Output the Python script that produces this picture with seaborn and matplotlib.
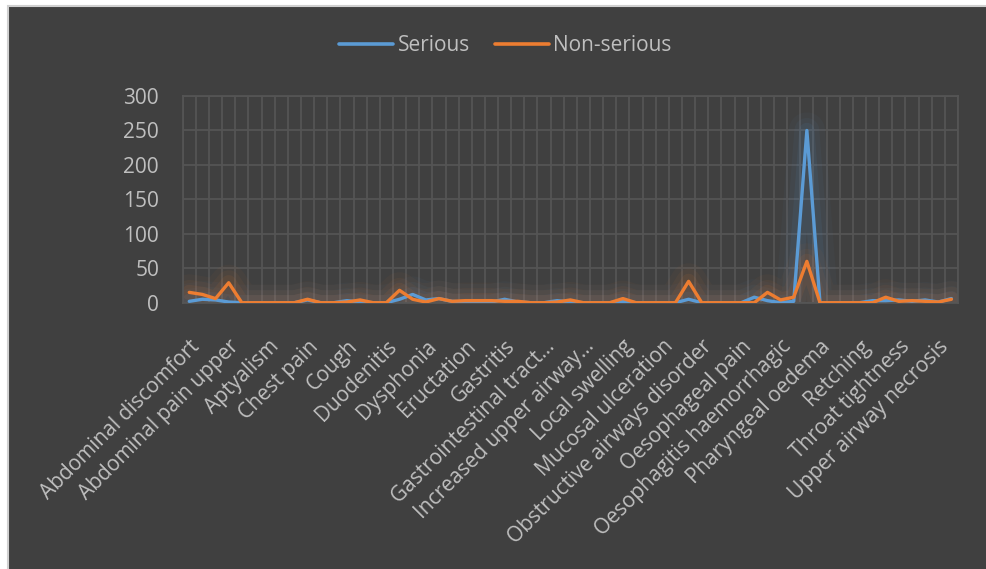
import numpy as np
import pandas as pd
import matplotlib
matplotlib.use("Agg")
import matplotlib.pyplot as plt
import seaborn as sns
from matplotlib.patches import Rectangle

# categorias (somente cada terceira aparece no eixo)
categories = [
    "Abdominal discomfort", "Abdominal distension", "Abdominal pain",
    "Abdominal pain upper", "Ageusia", "Angioedema",
    "Aptyalism", "Aspiration", "Chest discomfort",
    "Chest pain", "Choking", "Choking sensation",
    "Cough", "Dry mouth", "Duodenal ulcer",
    "Duodenitis", "Dyspepsia", "Dysphagia",
    "Dysphonia", "Dyspnoea", "Epigastric discomfort",
    "Eructation", "Feeling hot", "Gastric ulcer",
    "Gastritis", "Gastritis erosive", "Gastrointestinal haemorrhage",
    "Gastrointestinal tract irritation", "Glossodynia", "Hypoaesthesia oral",
    "Increased upper airway secretion", "Laryngeal oedema", "Lip swelling",
    "Local swelling", "Lower respiratory tract inflammation", "Mouth ulceration",
    "Mucosal ulceration", "Mucous membrane disorder", "Nausea",
    "Obstructive airways disorder", "Odynophagia", "Oedema mouth",
    "Oesophageal pain", "Oesophageal ulcer", "Oesophagitis",
    "Oesophagitis haemorrhagic", "Oral discomfort", "Oropharyngeal pain",
    "Pharyngeal oedema", "Pharyngeal ulceration", "Regurgitation",
    "Retching", "Stomatitis", "Throat irritation",
    "Throat tightness", "Tongue oedema", "Tracheal oedema",
    "Upper airway necrosis", "Vomiting",
]

serious = [2, 5, 4, 1, 0, 0, 0, 0, 0, 4,
           0, 0, 3, 1, 0, 0, 5, 12, 4, 6,
           2, 1, 1, 1, 5, 1, 0, 0, 3, 1,
           0, 0, 0, 2, 0, 0, 0, 0, 5, 0,
           0, 0, 0, 8, 3, 0, 2, 250, 0, 0,
           0, 0, 3, 3, 4, 2, 4, 1, 6]

non_serious = [15, 12, 6, 29, 0, 0, 0, 0, 0, 5,
               0, 0, 1, 4, 0, 0, 18, 5, 1, 6,
               2, 3, 3, 3, 2, 2, 0, 0, 1, 4,
               0, 0, 0, 6, 0, 0, 0, 0, 31, 0,
               0, 0, 0, 0, 15, 4, 8, 60, 0, 0,
               0, 0, 0, 8, 2, 3, 2, 1, 5]

series_names = ["Serious", "Non-serious"]
colors = ["#5B9BD5", "#ED7D31"]

n = len(categories)
df = pd.DataFrame({
    "idx": list(range(n)) * 2,
    "count": serious + non_serious,
    "type": [series_names[0]] * n + [series_names[1]] * n,
})

def short(name):
    if len(name) > 30:
        return name.rsplit(" ", 1)[0] + "\u2026"
    return name

bg = "#404040"
txt = "#bfbfbf"
grid = "#555555"

sns.set_theme(style="dark")
plt.rcParams["font.family"] = ["Open Sans", "DejaVu Sans"]

fig = plt.figure(figsize=(9.87, 5.69), dpi=100, facecolor="white")
fig.patches.append(Rectangle((8 / 987, -0.02), 1.05, 1.02 - 6 / 569, transform=fig.transFigure,
                             facecolor=bg, edgecolor="#d0d0d0", linewidth=1.5, zorder=-5))
ax = fig.add_axes([0.1851, 0.468, 0.7855, 0.3633])
ax.set_facecolor(bg)

# efeito de brilho
for name, col in zip(series_names, colors):
    sub = df[df["type"] == name]
    for lw, a in [(26, 0.04), (18, 0.05), (11, 0.08)]:
        ax.plot(sub["idx"], sub["count"], color=col, lw=lw, alpha=a,
                solid_capstyle="round", solid_joinstyle="round", zorder=2)

sns.lineplot(data=df, x="idx", y="count", hue="type", palette=colors,
             hue_order=series_names, linewidth=2.4, ax=ax, zorder=3)
for line in ax.lines:
    line.set_solid_joinstyle("round")
    line.set_solid_capstyle("round")

ax.set_xlim(-0.5, n - 0.5)
ax.set_ylim(0, 300)
ax.set_yticks(range(0, 301, 50))
ax.set_xticks(range(0, n, 3))
ax.set_xticklabels([short(categories[i]) for i in range(0, n, 3)],
                   rotation=45, ha="right", rotation_mode="anchor")
ax.set_xticks(np.arange(-0.5, n, 1), minor=True)
ax.tick_params(axis="both", which="both", length=0, colors=txt)
ax.tick_params(axis="y", labelsize=15, pad=17)
ax.tick_params(axis="x", labelsize=15, pad=24)
ax.grid(True, which="minor", axis="x", color=grid, lw=1.3)
ax.grid(True, which="major", axis="y", color=grid, lw=1.3)
ax.grid(False, which="major", axis="x")
ax.set_axisbelow(True)
for s in ax.spines.values():
    s.set_visible(True)
    s.set_color(grid)
    s.set_linewidth(1.3)
ax.set_xlabel("")
ax.set_ylabel("")

ax.legend_.remove()
handles = [plt.Line2D([], [], color=c, lw=2.6, solid_capstyle="round") for c in colors]
fig.legend(handles, series_names, loc="center", bbox_to_anchor=(0.512, 0.92), ncol=2,
           frameon=False, fontsize=15, labelcolor=txt, handlelength=2.6,
           handletextpad=0.2, columnspacing=1.2)

fig.savefig("out.png", dpi=100, facecolor=fig.get_facecolor())
